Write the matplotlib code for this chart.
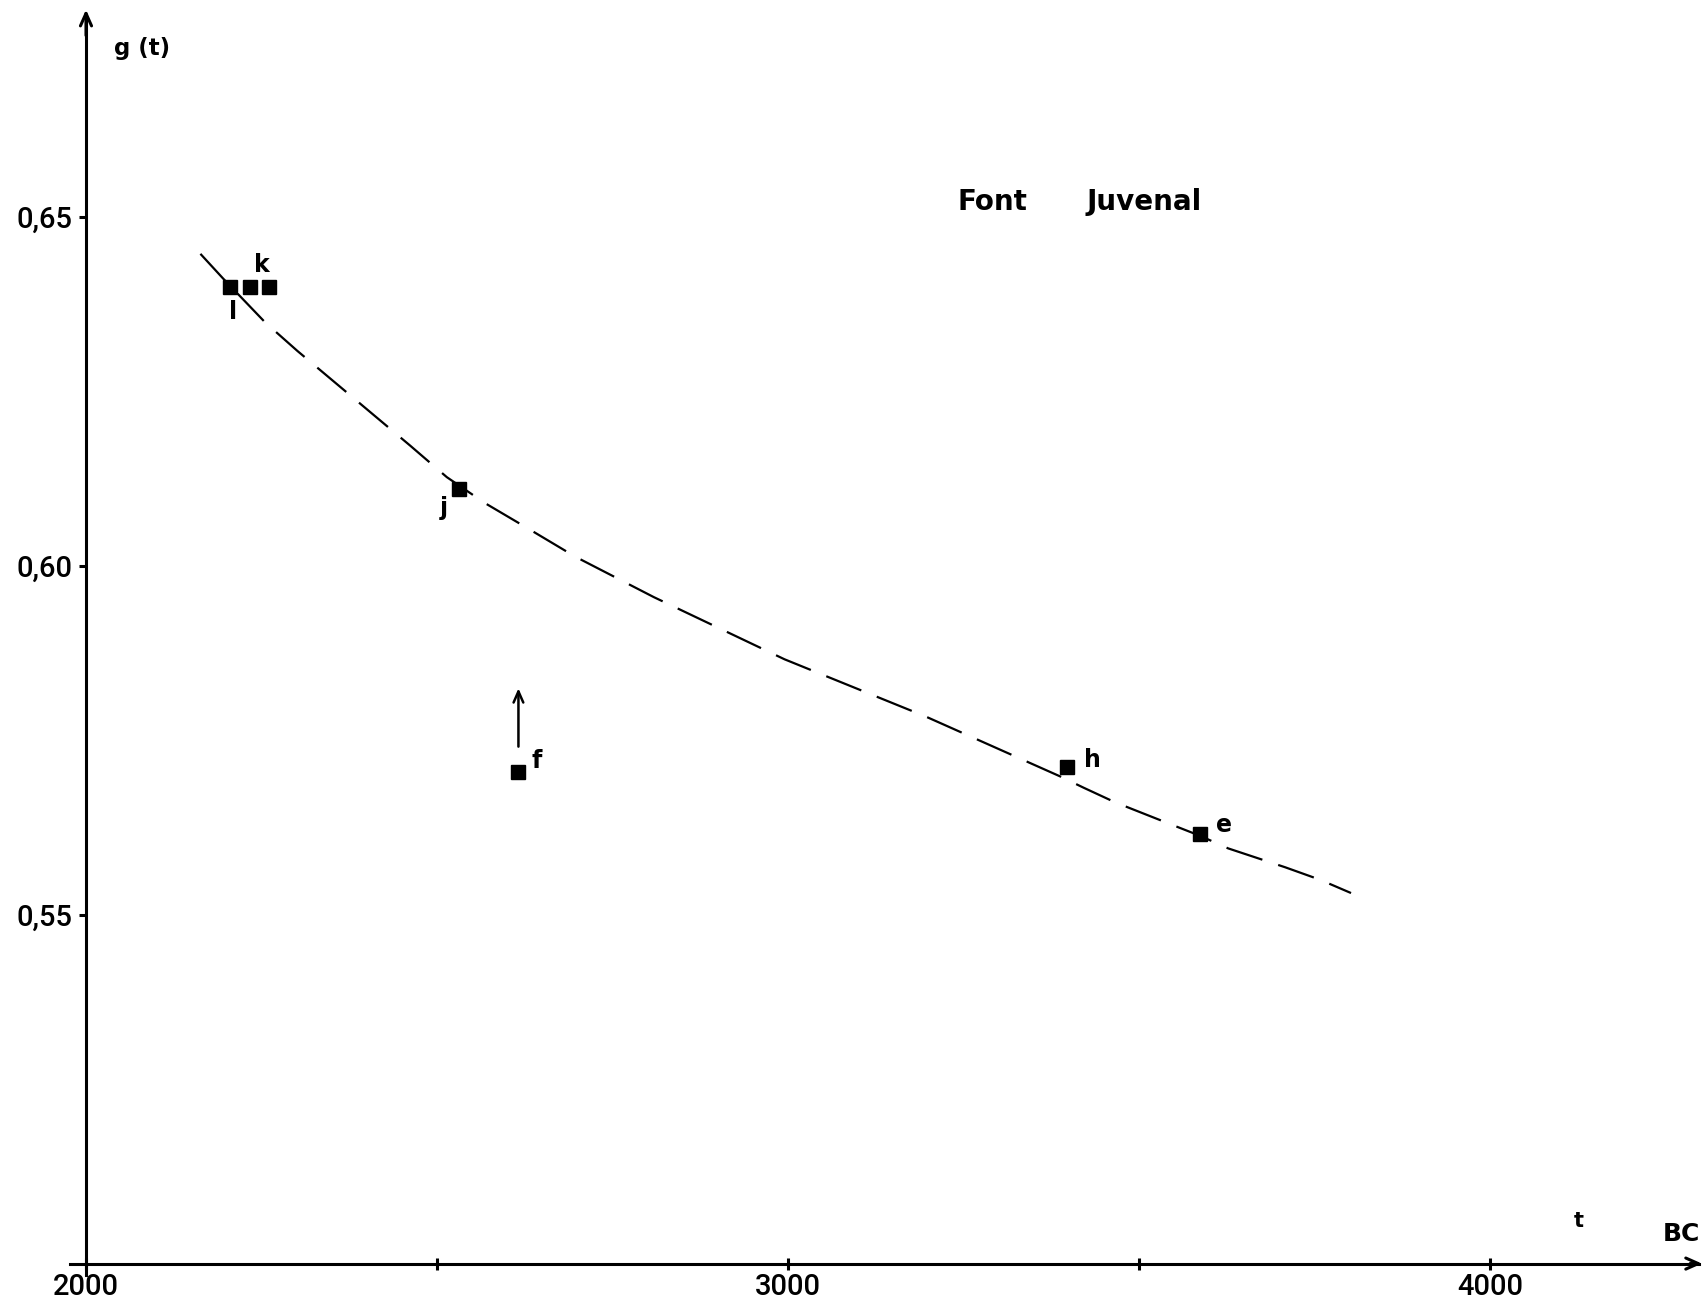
import matplotlib
matplotlib.use("Agg")
import matplotlib.pyplot as plt
import matplotlib.transforms as mtransforms

# ---------------- data ----------------
x_ticks = [2000, 3000, 4000]
x_tick_labels = ["2000", "3000", "4000"]
x_minor_ticks = [2500, 3500]
y_ticks = [0.55, 0.60, 0.65]
y_tick_labels = ["0,55", "0,60", "0,65"]

# samples (t in years BC, g(t))
sample_t = [2205, 2233, 2261, 2532, 2616, 3398, 3587]
sample_g = [0.640, 0.640, 0.640, 0.611, 0.5705, 0.5712, 0.5615]
sample_labels = ["l", "", "k", "j", "f", "h", "e"]

# dashed fitted curve
curve_t = [2163, 2195, 2255, 2301, 2462, 2514, 2568, 2627, 2697, 2809,
           2995, 3196, 3388, 3421, 3466, 3549, 3587, 3627, 3708, 3758, 3802]
curve_g = [0.6447, 0.6412, 0.6349, 0.6308, 0.6172, 0.6127, 0.6090, 0.6055,
           0.6013, 0.5955, 0.5866, 0.5784, 0.5698, 0.5682, 0.5661, 0.5628,
           0.5613, 0.5595, 0.5568, 0.5550, 0.5531]

title_words = ["Font", "Juvenal"]
y_label = "g (t)"
x_label = "BC"
x_var = "t"

# ---------------- style ----------------
plt.rcParams["font.family"] = ["Roboto", "Liberation Sans", "DejaVu Sans"]
label_font = ["DejaVu Sans"]

fig = plt.figure(figsize=(17.08, 13.12), dpi=100)
ax = fig.add_axes([0, 0, 1, 1])
ax.set_xlim(1877.5, 4310.5)
ax.set_ylim(0.49306, 0.68108)
ax.patch.set_alpha(0)

axis_lw = 2.2
for s in ["top", "right"]:
    ax.spines[s].set_visible(False)
ax.spines["left"].set_position(("data", 2000))
ax.spines["bottom"].set_position(("data", 0.50))
ax.spines["left"].set_bounds(0.4984, 0.6790)
ax.spines["bottom"].set_bounds(1977, 4298)
ax.spines["left"].set_linewidth(axis_lw)
ax.spines["bottom"].set_linewidth(axis_lw)

# open arrow heads at the axis ends
arrow_style = dict(arrowstyle="->,head_length=0.9,head_width=0.4",
                   lw=axis_lw, color="black", shrinkA=0, shrinkB=0)
ax.annotate("", xy=(2000, 0.6797), xytext=(2000, 0.6760), arrowprops=arrow_style)
ax.annotate("", xy=(4302, 0.50), xytext=(4285, 0.50), arrowprops=arrow_style)

ax.set_xticks(x_ticks)
ax.set_xticklabels(x_tick_labels)
ax.set_xticks(x_minor_ticks, minor=True)
ax.set_yticks(y_ticks)
ax.set_yticklabels(y_tick_labels)
ax.tick_params(axis="x", which="both", direction="inout", length=9,
               width=2.2, pad=2, labelsize=21)
ax.tick_params(axis="y", which="major", direction="out", length=5,
               width=2.2, pad=5, labelsize=21)
for lab in ax.get_xticklabels() + ax.get_yticklabels():
    lab.set_fontweight("medium")

# dashed curve
ax.plot(curve_t, curve_g, color="black", lw=1.6,
        linestyle=(0, (17, 7.5)), zorder=2)

# samples
ax.plot(sample_t, sample_g, linestyle="none", marker="s", markersize=10,
        color="black", zorder=3)

label_offsets = {"l": (2.4, -18), "k": (-5.5, 15.5), "j": (-11.5, -14),
                 "f": (13.5, 7.5), "h": (18, 4.5), "e": (17.5, 7)}
for t, g, lab in zip(sample_t, sample_g, sample_labels):
    if not lab:
        continue
    ax.annotate(lab, xy=(t, g), xytext=label_offsets[lab],
                textcoords="offset points", ha="center", va="center",
                fontsize=17, fontweight="bold", family=label_font)

# arrow above f (lower bound)
fi = sample_labels.index("f")
tip = mtransforms.offset_copy(ax.transData, fig=fig, x=0, y=60, units="points")
tail = mtransforms.offset_copy(ax.transData, fig=fig, x=0, y=18, units="points")
ax.annotate("", xy=(sample_t[fi], sample_g[fi]), xycoords=tip,
            xytext=(sample_t[fi], sample_g[fi]), textcoords=tail,
            arrowprops=dict(arrowstyle="->,head_length=0.8,head_width=0.35",
                            lw=1.8, color="black", shrinkA=0, shrinkB=0))

# texts
ax.text(0.0830, 0.9627, y_label, transform=ax.transAxes, ha="center",
        va="center", fontsize=16.5, fontweight="bold", family=label_font)
ax.text(0.9842, 0.0595, x_label, transform=ax.transAxes, ha="center",
        va="center", fontsize=18, fontweight="bold", family=label_font)
ax.text(0.9245, 0.0694, x_var, transform=ax.transAxes, ha="center",
        va="center", fontsize=15, fontweight="bold", family=label_font)
ax.text(0.5810, 0.8464, title_words[0], transform=ax.transAxes, ha="center",
        va="center", fontsize=20, fontweight="bold", family=label_font)
ax.text(0.6697, 0.8464, title_words[1], transform=ax.transAxes, ha="center",
        va="center", fontsize=20, fontweight="bold", family=label_font)

fig.savefig("out.png", dpi=100, facecolor="white")
